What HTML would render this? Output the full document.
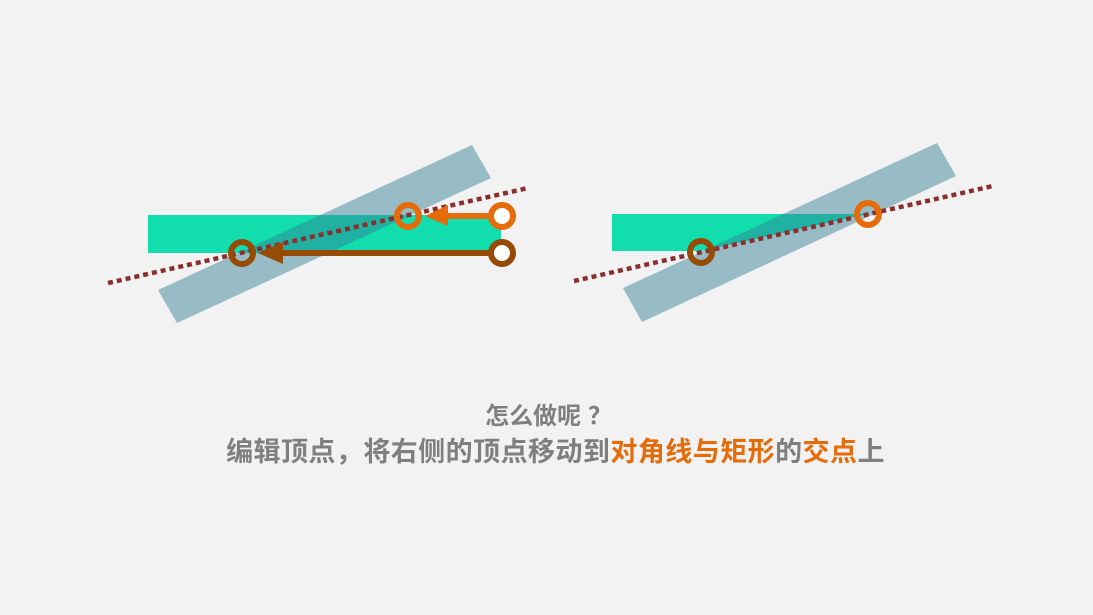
<!DOCTYPE html>
<html><head><meta charset="utf-8"><style>
html,body{margin:0;padding:0;background:#f2f2f2;width:1093px;height:615px;overflow:hidden}
svg{position:absolute;left:0;top:0}
.t{position:absolute;left:0;width:1093px;text-align:center;font-family:"Liberation Sans","Noto Sans CJK SC",sans-serif;font-weight:bold;color:#7f7f7f}
.o{color:#e46c0a}
</style></head><body>
<svg width="1093" height="615" viewBox="0 0 1093 615">
<rect x="148" y="215" width="353" height="38" fill="#11ddad"/>
<polygon points="472,145 491,178 177,323 158,290" fill="rgba(53,130,150,0.48)"/>
<line x1="108" y1="283" x2="528" y2="188" stroke="#8b2e2e" stroke-width="4.5" stroke-dasharray="5,4"/>
<line x1="500" y1="216" x2="440" y2="216" stroke="#e46c0a" stroke-width="6"/>
<polygon points="425,216 448,205 448,226" fill="#e46c0a"/>
<line x1="500" y1="253" x2="275" y2="253" stroke="#964b06" stroke-width="6"/>
<polygon points="258,253 283,242 283,264" fill="#964b06"/>
<circle cx="408" cy="216" r="11" fill="none" stroke="#e46c0a" stroke-width="6"/>
<circle cx="502" cy="216" r="11" fill="#fff" stroke="#e46c0a" stroke-width="6"/>
<circle cx="242" cy="253" r="11" fill="none" stroke="#964b06" stroke-width="6"/>
<circle cx="502" cy="253" r="11" fill="#fff" stroke="#964b06" stroke-width="6"/>
<polygon points="612,214 868,214 701,251 612,251" fill="#11ddad"/>
<polygon points="937,143 956,176 642,322 623,288" fill="rgba(53,130,150,0.48)"/>
<line x1="574" y1="281" x2="993" y2="186" stroke="#8b2e2e" stroke-width="4.5" stroke-dasharray="5,4"/>
<circle cx="868" cy="214" r="11" fill="none" stroke="#e46c0a" stroke-width="6"/>
<circle cx="701" cy="252" r="11" fill="none" stroke="#964b06" stroke-width="6"/>
</svg>
<div class="t" style="top:402px;font-size:24px;line-height:30px;left:2px">怎么做呢 ？</div>
<div class="t" style="top:436px;font-size:27px;line-height:32px;left:9px;letter-spacing:0.45px">编辑顶点，将右侧的顶点移动到<span class="o">对角线与矩形</span>的<span class="o">交点</span>上</div>
</body></html>
